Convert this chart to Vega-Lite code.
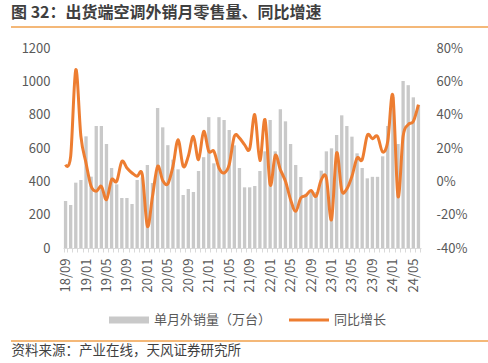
{
  "$schema": "https://vega.github.io/schema/vega-lite/v6.json",
  "background": "white",
  "padding": {"left": 5, "right": 5, "top": 5, "bottom": 5},
  "config": {"font": "Noto Sans CJK SC", "view": {"stroke": null}},
  "title": {"text": "图 32：出货端空调外销月零售量、同比增速", "anchor": "start", "frame": "group", "fontSize": 16, "fontWeight": "bold", "color": "#3f3f3f", "offset": 5, "font": "Noto Sans CJK SC"},
  "width": 478,
  "height": 200,
  "datasets": {
    "d": [
      {"m": "18/09", "v": 282, "g": 10},
      {"m": "18/10", "v": 258, "g": 15},
      {"m": "18/11", "v": 392, "g": 67},
      {"m": "18/12", "v": 408, "g": 27},
      {"m": "19/01", "v": 670, "g": 11},
      {"m": "19/02", "v": 428, "g": -3},
      {"m": "19/03", "v": 732, "g": -6},
      {"m": "19/04", "v": 732, "g": -3},
      {"m": "19/05", "v": 624, "g": -11},
      {"m": "19/06", "v": 480, "g": 1},
      {"m": "19/07", "v": 382, "g": 0},
      {"m": "19/08", "v": 300, "g": 12},
      {"m": "19/09", "v": 300, "g": 8},
      {"m": "19/10", "v": 264, "g": 5},
      {"m": "19/11", "v": 408, "g": 3},
      {"m": "19/12", "v": 424, "g": 4},
      {"m": "20/01", "v": 498, "g": -27},
      {"m": "20/02", "v": 390, "g": -9},
      {"m": "20/03", "v": 840, "g": 9},
      {"m": "20/04", "v": 724, "g": 0.5},
      {"m": "20/05", "v": 617, "g": -1.5},
      {"m": "20/06", "v": 530, "g": 9},
      {"m": "20/07", "v": 472, "g": 25},
      {"m": "20/08", "v": 318, "g": 9},
      {"m": "20/09", "v": 354, "g": 15},
      {"m": "20/10", "v": 336, "g": 27},
      {"m": "20/11", "v": 462, "g": 13},
      {"m": "20/12", "v": 545, "g": 30},
      {"m": "21/01", "v": 785, "g": 18},
      {"m": "21/02", "v": 508, "g": 18},
      {"m": "21/03", "v": 785, "g": 8},
      {"m": "21/04", "v": 768, "g": 5},
      {"m": "21/05", "v": 708, "g": 10},
      {"m": "21/06", "v": 616, "g": 27},
      {"m": "21/07", "v": 480, "g": 26},
      {"m": "21/08", "v": 364, "g": 22},
      {"m": "21/09", "v": 364, "g": 19.5},
      {"m": "21/10", "v": 372, "g": 40},
      {"m": "21/11", "v": 462, "g": 12.5},
      {"m": "21/12", "v": 580, "g": 37},
      {"m": "22/01", "v": 768, "g": -2},
      {"m": "22/02", "v": 580, "g": 15.6},
      {"m": "22/03", "v": 832, "g": 7},
      {"m": "22/04", "v": 760, "g": 0},
      {"m": "22/05", "v": 624, "g": -11},
      {"m": "22/06", "v": 498, "g": -18},
      {"m": "22/07", "v": 426, "g": -10},
      {"m": "22/08", "v": 325, "g": -8.5},
      {"m": "22/09", "v": 345, "g": -5.5},
      {"m": "22/10", "v": 335, "g": -9},
      {"m": "22/11", "v": 464, "g": 1},
      {"m": "22/12", "v": 580, "g": 2},
      {"m": "23/01", "v": 598, "g": -23},
      {"m": "23/02", "v": 678, "g": 17},
      {"m": "23/03", "v": 796, "g": -5.5},
      {"m": "23/04", "v": 732, "g": -4.5},
      {"m": "23/05", "v": 668, "g": 3},
      {"m": "23/06", "v": 568, "g": 14},
      {"m": "23/07", "v": 480, "g": 13},
      {"m": "23/08", "v": 418, "g": 27.6},
      {"m": "23/09", "v": 427, "g": 25.6},
      {"m": "23/10", "v": 427, "g": 27},
      {"m": "23/11", "v": 550, "g": 17.6},
      {"m": "23/12", "v": 732, "g": 24},
      {"m": "24/01", "v": 905, "g": 51.5},
      {"m": "24/02", "v": 624, "g": -9},
      {"m": "24/03", "v": 1002, "g": 27},
      {"m": "24/04", "v": 977, "g": 34},
      {"m": "24/05", "v": 904, "g": 36},
      {"m": "24/06", "v": 858, "g": 46}
    ],
    "lines": [
      {"r": 1322, "r2": 1331},
      {"r": -554, "r2": -563}
    ]
  },
  "layer": [
    {
      "layer": [
        {
          "data": {"name": "d"},
          "mark": {"type": "bar", "clip": false},
          "encoding": {
            "x": {"field": "m", "type": "ordinal", "sort": null,
                  "scale": {"range": [52, 410], "paddingInner": 0.35, "paddingOuter": 0.175},
                  "axis": {"labelAngle": -90, "labelOverlap": false,
                           "labelExpr": "indexof(['01','05','09'], substring(datum.value, 3, 5)) >= 0 ? datum.value : ''",
                           "tickBand": "extent", "tickSize": 4, "tickColor": "#d9d9d9", "domainColor": "#d9d9d9",
                           "labelFontSize": 13, "labelColor": "#595959", "labelPadding": 6,
                           "title": "资料来源：产业在线，天风证券研究所", "titleX": 0, "titleY": 106, "titleAlign": "left",
                           "titleAnchor": "start", "titleBaseline": "alphabetic", "titleFontSize": 13.5,
                           "titleFontWeight": "normal", "titleColor": "#3f3f3f", "titleFont": "Noto Sans CJK SC"}},
            "y": {"field": "v", "type": "quantitative", "scale": {"domain": [0, 1200]},
                  "axis": {"orient": "left", "offset": -52, "values": [0, 200, 400, 600, 800, 1000, 1200], "format": "d", "domain": false, "ticks": false,
                           "grid": false, "labelPadding": 13, "labelFontSize": 13, "labelColor": "#595959", "title": null}},
            "color": {"datum": "单月外销量（万台）", "type": "nominal",
                      "scale": {"domain": ["单月外销量（万台）", "同比增长"], "range": ["#c9c9c9", "#ed7d31"]},
                      "legend": {"orient": "none", "legendX": 98, "legendY": 252, "direction": "horizontal", "title": null,
                                 "padding": 0, "labelFontSize": 13, "labelColor": "#595959", "symbolSize": 1600,
                                 "columnPadding": 17, "labelOffset": 5,
                                 "encode": {"symbols": {"update": {
                                   "shape": {"signal": "datum.value === '同比增长' ? 'M-1,-0.07H1V0.07H-1Z' : 'M-1,-0.18H1V0.18H-1Z'"},
                                   "fill": {"signal": "datum.value === '同比增长' ? '#ed7d31' : '#c9c9c9'"},
                                   "fillOpacity": {"value": 1},
                                   "strokeWidth": {"value": 0},
                                   "opacity": {"value": 1}}}}}}
          }
        },
        {
          "data": {"name": "lines"},
          "mark": {"type": "rect", "color": "#f0a04b", "opacity": 1, "clip": false},
          "encoding": {
            "x": {"value": 0},
            "x2": {"value": "width"},
            "y": {"field": "r", "type": "quantitative",
                  "axis": {"orient": "left", "offset": -52, "values": [0, 200, 400, 600, 800, 1000, 1200], "format": "d", "domain": false, "ticks": false,
                           "grid": false, "labelPadding": 13, "labelFontSize": 13, "labelColor": "#595959", "title": null}},
            "y2": {"field": "r2"}
          }
        }
      ]
    },
    {
      "data": {"name": "d"},
      "mark": {"type": "line", "strokeWidth": 3, "interpolate": "cardinal", "clip": false},
      "encoding": {
        "x": {"field": "m", "type": "ordinal", "sort": null},
        "y": {"field": "g", "type": "quantitative", "scale": {"domain": [-40, 80]},
              "axis": {"orient": "right", "offset": -68, "values": [-40, -20, 0, 20, 40, 60, 80], "labelExpr": "datum.value + '%'",
                       "domain": false, "ticks": false, "grid": false, "labelPadding": 15, "labelFontSize": 13,
                       "labelColor": "#595959", "title": null}},
        "color": {"datum": "同比增长", "type": "nominal"}
      }
    }
  ],
  "resolve": {"scale": {"y": "independent"}}
}
